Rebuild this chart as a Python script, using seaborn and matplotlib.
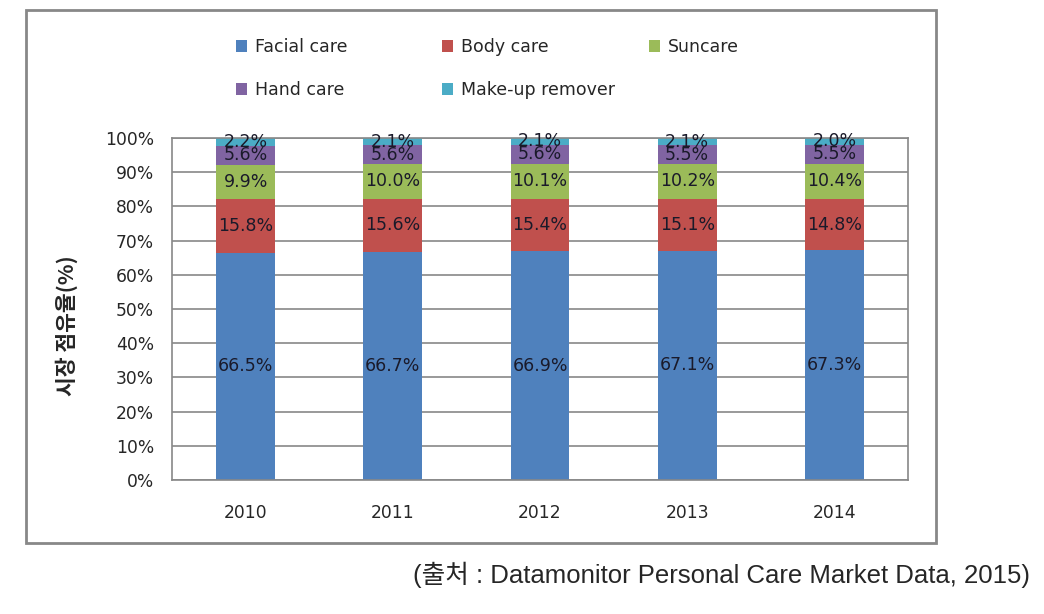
import numpy as np
import pandas as pd
import matplotlib
matplotlib.use("Agg")
import matplotlib.pyplot as plt
import seaborn as sns
from matplotlib.patches import Rectangle

years = ["2010", "2011", "2012", "2013", "2014"]
facial = [66.5, 66.7, 66.9, 67.1, 67.3]
body = [15.8, 15.6, 15.4, 15.1, 14.8]
suncare = [9.9, 10.0, 10.1, 10.2, 10.4]
hand = [5.6, 5.6, 5.6, 5.5, 5.5]
makeup = [2.2, 2.1, 2.1, 2.1, 2.0]

series = ["Facial care", "Body care", "Suncare", "Hand care", "Make-up remover"]
colors = ["#4F81BD", "#C0504D", "#9BBB59", "#8064A2", "#4BACC6"]

df = pd.DataFrame({"year": years, "Facial care": facial, "Body care": body,
                   "Suncare": suncare, "Hand care": hand, "Make-up remover": makeup})

sns.set_style("white")
plt.rcParams['font.family'] = ['DejaVu Sans', 'Noto Sans CJK KR']

fig = plt.figure(figsize=(10.44, 6.14), dpi=100)
ax = fig.add_axes([172/1044, 1-480/614, (908-172)/1044, (480-138)/614])

# stacked bars, one layer per product group
bottom = np.zeros(len(years))
handles = {}
for name, col in zip(series, colors):
    sns.barplot(data=df, x="year", y=name, bottom=bottom, color=col,
                width=0.40, ax=ax, saturation=1, linewidth=0)
    cont = ax.containers[-1]
    handles[name] = cont.patches[0]
    ax.bar_label(cont, labels=[f"{v:.1f}%" for v in df[name]],
                 label_type="center", fontsize=12.5, color="#1a1a2a")
    bottom = bottom + df[name].values

ax.set_ylim(0, 100)
ax.set_xlim(-0.5, 4.5)
ax.set_yticks(np.arange(0, 101, 10))
ax.set_yticklabels([f"{v}%" for v in range(0, 101, 10)], fontsize=12.3)
ax.set_xticks(range(5))
ax.set_xticklabels(years, fontsize=12.3)
ax.set_xticks(np.arange(-0.5, 5, 1), minor=True)
ax.tick_params(axis="x", which="major", length=0, pad=17)
ax.tick_params(axis="x", which="minor", length=7, width=1.2, color="#888888", direction="out")
ax.tick_params(axis="y", length=6, width=1.2, color="#888888", direction="out", pad=7)
ax.yaxis.grid(True, color="#888888", linewidth=1.2)
ax.set_axisbelow(True)
for s in ax.spines.values():
    s.set_color("#888888")
    s.set_linewidth(1.2)
ax.set_xlabel("")
ax.set_ylabel("시장 점유율(%)", fontsize=15.5, fontweight="bold",
              family=["Noto Sans CJK KR", "DejaVu Sans"])
ax.yaxis.set_label_coords(-0.128, 0.45)

legend_cols = [["Facial care", "Hand care"], ["Body care", "Make-up remover"], ["Suncare"]]
legend_x = [236/1044, 442/1044, 649/1044]
for names, lx in zip(legend_cols, legend_x):
    fig.legend([handles[n] for n in names], names, loc="upper left",
               bbox_to_anchor=(lx, 1-38/614), frameon=False, fontsize=12.5,
               handlelength=0.65, handleheight=0.65, handletextpad=0.45,
               labelspacing=1.45, borderpad=0, borderaxespad=0)

fig.patches.append(Rectangle((26/1044, 1-543/614), (936-26)/1044, (543-10)/614,
                             transform=fig.transFigure, fill=False,
                             edgecolor="#888888", linewidth=2))

fig.text(1030/1044, 1-575/614, "(출처 : Datamonitor Personal Care Market Data, 2015)",
         ha="right", va="center", fontsize=18.5,
         family=["Liberation Sans", "Noto Sans CJK KR"])

fig.savefig("out.png", dpi=100)
